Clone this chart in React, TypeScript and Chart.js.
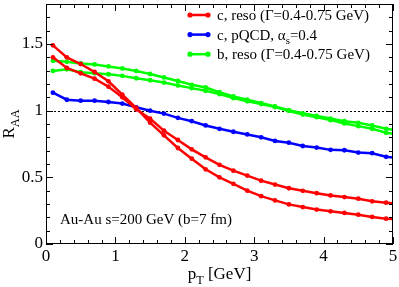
import { useEffect, useRef } from "react";
import { Chart, registerables } from "chart.js";
Chart.register(...registerables);

const pT = [0.1, 0.3, 0.5, 0.7, 0.9, 1.1, 1.3, 1.5, 1.7, 1.9, 2.1, 2.3, 2.5, 2.7, 2.9, 3.1, 3.3, 3.5, 3.7, 3.9, 4.1, 4.3, 4.5, 4.7, 4.9, 5.0];
const cResoA = [1.49, 1.40, 1.35, 1.29, 1.22, 1.12, 1.02, 0.91, 0.815, 0.72, 0.64, 0.56, 0.50, 0.451, 0.40, 0.359, 0.327, 0.297, 0.277, 0.258, 0.245, 0.233, 0.22, 0.203, 0.19, 0.187];
const cResoB = [1.40, 1.32, 1.28, 1.24, 1.18, 1.10, 1.01, 0.94, 0.85, 0.78, 0.71, 0.65, 0.594, 0.55, 0.513, 0.475, 0.446, 0.418, 0.399, 0.381, 0.364, 0.352, 0.34, 0.32, 0.31, 0.305];
const cPQCD = [1.135, 1.082, 1.075, 1.075, 1.065, 1.053, 1.025, 1.0, 0.978, 0.946, 0.921, 0.889, 0.864, 0.842, 0.822, 0.80, 0.773, 0.76, 0.735, 0.723, 0.706, 0.703, 0.686, 0.681, 0.654, 0.648];
const bResoA = [1.374, 1.367, 1.354, 1.347, 1.332, 1.317, 1.298, 1.275, 1.249, 1.223, 1.194, 1.174, 1.139, 1.107, 1.082, 1.057, 1.032, 1.003, 0.98, 0.961, 0.941, 0.921, 0.909, 0.889, 0.864, 0.857];
const bResoB = [1.298, 1.31, 1.288, 1.28, 1.273, 1.261, 1.243, 1.228, 1.211, 1.189, 1.169, 1.149, 1.124, 1.094, 1.07, 1.05, 1.027, 0.998, 0.971, 0.951, 0.929, 0.904, 0.884, 0.864, 0.834, 0.826];

const xTickValues = [0, 1, 2, 3, 4, 5];
const yTickValues = [0, 0.5, 1, 1.5];
const yTickLabels = ["0", "0.5", "1", "1.5"];
const legendLabels = ["c, reso (Γ=0.4-0.75 GeV)", "c, pQCD, α_{s}=0.4", "b, reso (Γ=0.4-0.75 GeV)"];
const legendColors = ["#ff0000", "#0000ff", "#00ff00"];
const annotationText = "Au-Au s=200 GeV (b=7 fm)";
const xTitle = "p_{T} [GeV]";
const yTitle = "R_{AA}";

const SERIF = '"Liberation Serif", "DejaVu Serif", serif';

function parseRich(text: string) {
  const segs: { t: string; sub: boolean }[] = [];
  let i = 0;
  let buf = "";
  while (i < text.length) {
    if (text[i] === "_" && text[i + 1] === "{") {
      if (buf) segs.push({ t: buf, sub: false });
      buf = "";
      const end = text.indexOf("}", i);
      segs.push({ t: text.slice(i + 2, end), sub: true });
      i = end + 1;
    } else {
      buf += text[i];
      i++;
    }
  }
  if (buf) segs.push({ t: buf, sub: false });
  return segs;
}

function drawRich(ctx: CanvasRenderingContext2D, text: string, x: number, y: number, size: number, align: "left" | "center") {
  const segs = parseRich(text);
  const subSize = size * 0.72;
  let w = 0;
  for (const s of segs) {
    ctx.font = `${s.sub ? subSize : size}px ${SERIF}`;
    w += ctx.measureText(s.t).width;
  }
  let cx = align === "center" ? x - w / 2 : x;
  ctx.textAlign = "left";
  ctx.textBaseline = "alphabetic";
  for (const s of segs) {
    ctx.font = `${s.sub ? subSize : size}px ${SERIF}`;
    ctx.fillText(s.t, cx, s.sub ? y + size * 0.3 : y);
    cx += ctx.measureText(s.t).width;
  }
}

const decorPlugin = {
  id: "decor",
  beforeDatasetsDraw(chart: any) {
    const { ctx, chartArea: a, scales } = chart;
    const y = scales.y;
    ctx.save();
    ctx.strokeStyle = "#000";
    ctx.lineWidth = 1;
    ctx.setLineDash([2, 2]);
    const py = Math.round(y.getPixelForValue(1)) + 0.5;
    ctx.beginPath();
    ctx.moveTo(a.left, py);
    ctx.lineTo(a.right, py);
    ctx.stroke();
    ctx.restore();
  },
  afterDatasetsDraw(chart: any) {
    const { ctx, chartArea: a, scales } = chart;
    const xs = scales.x;
    const ys = scales.y;
    ctx.save();
    ctx.strokeStyle = "#000";
    ctx.lineWidth = 1;
    ctx.strokeRect(Math.round(a.left) + 0.5, Math.round(a.top) + 0.5, Math.round(a.right - a.left) - 1, Math.round(a.bottom - a.top) - 1);
    ctx.beginPath();
    for (let k = 0; k <= 25; k++) {
      const v = k * 0.2;
      const major = k % 5 === 0;
      const len = major ? 7 : 4;
      const px = Math.round(xs.getPixelForValue(v)) + 0.5;
      ctx.moveTo(px, a.bottom);
      ctx.lineTo(px, a.bottom - len);
      ctx.moveTo(px, a.top);
      ctx.lineTo(px, a.top + len);
    }
    for (let k = 0; k <= 18; k++) {
      const v = k * 0.1;
      const major = k % 5 === 0;
      const len = major ? 7 : 4;
      const py = Math.round(ys.getPixelForValue(v)) + 0.5;
      ctx.moveTo(a.left, py);
      ctx.lineTo(a.left + len, py);
      ctx.moveTo(a.right, py);
      ctx.lineTo(a.right - len, py);
    }
    ctx.stroke();

    for (let i = 0; i < legendLabels.length; i++) {
      const ly = 15 + i * 19.6;
      ctx.strokeStyle = legendColors[i];
      ctx.lineWidth = 2.5;
      ctx.beginPath();
      ctx.moveTo(190, ly);
      ctx.lineTo(208, ly);
      ctx.stroke();
      ctx.fillStyle = legendColors[i];
      for (const dx of [190, 208]) {
        ctx.beginPath();
        ctx.arc(dx, ly, 2.6, 0, Math.PI * 2);
        ctx.fill();
      }
      ctx.fillStyle = "#000";
      drawRich(ctx, legendLabels[i], 217, ly + 5, 15, "left");
    }

    drawRich(ctx, annotationText, 60, 224, 15, "left");

    drawRich(ctx, xTitle, (a.left + a.right) / 2, 279, 17, "center");
    ctx.save();
    ctx.translate(14, (a.top + a.bottom) / 2);
    ctx.rotate(-Math.PI / 2);
    drawRich(ctx, yTitle, 0, 0, 17, "center");
    ctx.restore();
    ctx.restore();
  },
};

function mk(label: string, vals: number[], color: string) {
  return {
    label,
    data: pT.map((x, i) => ({ x, y: vals[i] })),
    borderColor: color,
    backgroundColor: color,
    pointBackgroundColor: color,
    pointBorderColor: color,
    borderWidth: 2.5,
    pointRadius: (c: any) => (c.dataIndex === pT.length - 1 ? 0 : 2.4),
    pointBorderWidth: 0,
    tension: 0,
    showLine: true,
  };
}

export default function App() {
  const ref = useRef<HTMLCanvasElement | null>(null);
  useEffect(() => {
    if (!ref.current) return;
    const chart = new Chart(ref.current, {
      type: "line",
      data: {
        datasets: [
          mk("c reso A", cResoA, legendColors[0]),
          mk("c reso B", cResoB, legendColors[0]),
          mk("c pQCD", cPQCD, legendColors[1]),
          mk("b reso A", bResoA, legendColors[2]),
          mk("b reso B", bResoB, legendColors[2]),
        ],
      },
      options: {
        animation: false,
        responsive: true,
        maintainAspectRatio: false,
        layout: { padding: { left: 0, top: 0, right: 6, bottom: 0 } },
        plugins: { legend: { display: false }, tooltip: { enabled: false }, title: { display: false } },
        scales: {
          x: {
            type: "linear",
            min: 0,
            max: 5,
            afterFit: (s: any) => { s.height = 43; s.paddingLeft = 0; s.paddingRight = 0; },
            afterBuildTicks: (s: any) => { s.ticks = xTickValues.map((v) => ({ value: v })); },
            grid: { display: false, drawTicks: false },
            border: { display: false },
            ticks: { font: { family: SERIF, size: 17 }, color: "#000", padding: 2, maxRotation: 0, autoSkip: false, callback: (v: any) => String(v) },
          },
          y: {
            type: "linear",
            min: 0,
            max: 1.8,
            afterFit: (s: any) => { s.width = 46; s.paddingTop = 0; s.paddingBottom = 0; },
            afterBuildTicks: (s: any) => { s.ticks = yTickValues.map((v) => ({ value: v })); },
            grid: { display: false, drawTicks: false },
            border: { display: false },
            ticks: {
              font: { family: SERIF, size: 17 },
              color: "#000",
              padding: 3,
              autoSkip: false,
              callback: (v: any) => {
                const idx = yTickValues.indexOf(Number(v));
                return idx >= 0 ? yTickLabels[idx] : "";
              },
            },
          },
        },
      },
      plugins: [decorPlugin],
    });
    return () => chart.destroy();
  }, []);
  return (
    <div style={{ position: "fixed", left: 0, top: 0, width: 399, height: 287, background: "#fff" }}>
      <canvas ref={ref} />
    </div>
  );
}
